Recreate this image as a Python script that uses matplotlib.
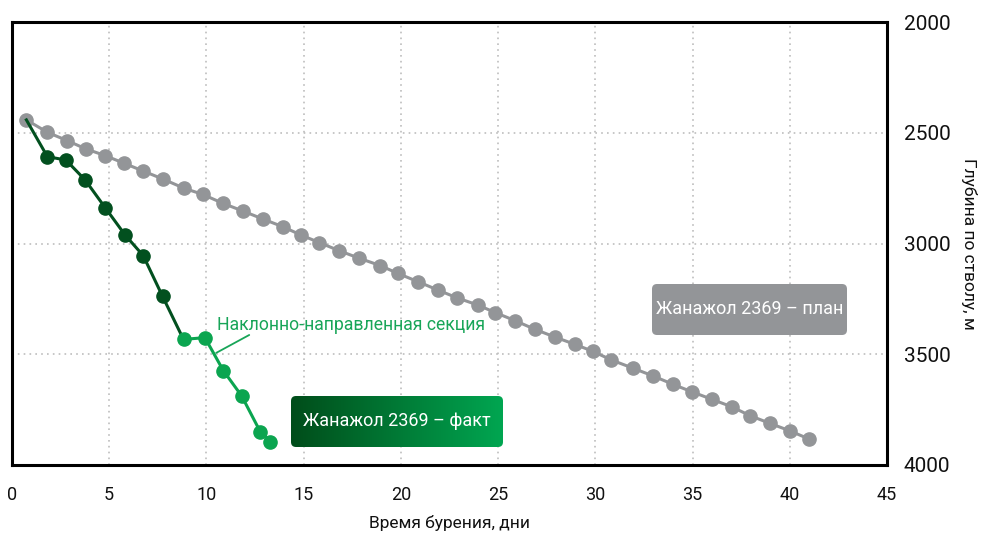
import matplotlib
matplotlib.use("Agg")
import matplotlib.pyplot as plt
import numpy as np
from matplotlib.patches import FancyBboxPatch
from matplotlib.colors import LinearSegmentedColormap

plt.rcParams['font.family'] = ['Roboto', 'DejaVu Sans']

# ---- data ----
plan_days = [0.74, 1.82, 2.85, 3.80, 4.79, 5.77, 6.75, 7.79, 8.86, 9.80,
             10.83, 11.86, 12.89, 13.92, 14.87, 15.81, 16.84, 17.87, 18.95, 19.84,
             20.87, 21.90, 22.88, 23.96, 24.86, 25.89, 26.88, 27.91, 28.94, 29.88,
             30.83, 31.94, 32.97, 34.00, 34.95, 35.98, 37.01, 37.95, 38.98, 40.01,
             41.00]
plan_depth = [2442, 2498, 2536, 2573, 2603, 2638, 2673, 2710, 2751, 2778,
              2818, 2853, 2889, 2924, 2962, 2996, 3033, 3067, 3100, 3135,
              3172, 3210, 3245, 3278, 3312, 3349, 3387, 3422, 3455, 3487,
              3526, 3563, 3598, 3636, 3669, 3703, 3737, 3777, 3812, 3846,
              3883]

fact_vertical_days = [0.74, 1.82, 2.77, 3.76, 4.79, 5.82, 6.75, 7.74]
fact_vertical_depth = [2442, 2608, 2623, 2713, 2838, 2962, 3055, 3238]
fact_inclined_days = [8.82, 9.92, 10.87, 11.81, 12.77, 13.29]
fact_inclined_depth = [3433, 3425, 3574, 3688, 3850, 3895]

x_ticks = [0, 5, 10, 15, 20, 25, 30, 35, 40, 45]
y_ticks = [2000, 2500, 3000, 3500, 4000]

plan_label = "Жанажол 2369 – план"
fact_label = "Жанажол 2369 – факт"
section_label = "Наклонно-направленная секция"
x_title = "Время бурения, дни"
y_title = "Глубина по стволу, м"

GRAY = "#939598"
DARK = "#02501f"
GREEN = "#0ba550"
TEXTGREEN = "#18a558"

fig = plt.figure(figsize=(9.89, 5.36), dpi=100)
W, H = 989, 536
ax = fig.add_axes([12 / W, (H - 465) / H, 875 / W, 443 / H])

ax.set_xlim(0, 45)
ax.set_ylim(4000, 2000)
ax.set_xticks(x_ticks)
ax.set_yticks(y_ticks)
ax.yaxis.tick_right()
ax.yaxis.set_label_position("right")
ax.tick_params(axis='both', length=0, labelcolor='#111111')
ax.tick_params(axis='y', pad=12, labelsize=15)
ax.tick_params(axis='x', pad=15, labelsize=13)
for s in ax.spines.values():
    s.set_linewidth(2.2)
    s.set_color("black")
ax.grid(True, color="#bdbdbd", linestyle=(0, (1, 2.5)), linewidth=1.2)
ax.set_axisbelow(True)

ax.set_xlabel(x_title, fontsize=12.5, labelpad=8, color='#111111')
ax.set_ylabel(y_title, fontsize=12.5, rotation=-90, labelpad=19, color='#111111')

ms = 9.5
lw = 2.2
ax.plot(plan_days, plan_depth, color=GRAY, lw=lw, marker='o', ms=ms, zorder=3)

# fact: vertical part (dark), then inclined part (green)
ax.plot(fact_vertical_days + fact_inclined_days[:1],
        fact_vertical_depth + fact_inclined_depth[:1],
        color=DARK, lw=lw, zorder=4)
ax.plot(fact_vertical_days[1:], fact_vertical_depth[1:], color=DARK, lw=0,
        marker='o', ms=ms, zorder=5)
ax.plot(fact_inclined_days, fact_inclined_depth, color=GREEN, lw=lw,
        marker='o', ms=ms, zorder=5)

# annotation for inclined section
ax.annotate('', xy=(10.5, 3494), xytext=(12.2, 3413),
            arrowprops=dict(arrowstyle='-', color=TEXTGREEN, lw=1.3,
                            shrinkA=0, shrinkB=0), zorder=4)
ax.text(10.55, 3368, section_label, color=TEXTGREEN, fontsize=12.7,
        ha='left', va='center')

# boxes in axes-fraction coordinates
def box(x0px, x1px, y0px, y1px):
    ax_l, ax_r, ax_t, ax_b = 12, 887, 22, 465
    fx0 = (x0px - ax_l) / (ax_r - ax_l)
    fx1 = (x1px - ax_l) / (ax_r - ax_l)
    fy0 = (ax_b - y1px) / (ax_b - ax_t)
    fy1 = (ax_b - y0px) / (ax_b - ax_t)
    return fx0, fx1, fy0, fy1

aspect = 875 / 443
r = 5 / 875

fx0, fx1, fy0, fy1 = box(652, 847, 284, 335)
p = FancyBboxPatch((fx0, fy0), fx1 - fx0, fy1 - fy0,
                   boxstyle=f"round,pad=0,rounding_size={r}",
                   mutation_aspect=aspect, transform=ax.transAxes,
                   facecolor=GRAY, edgecolor='none', zorder=6)
ax.add_patch(p)
ax.text((fx0 + fx1) / 2, (fy0 + fy1) / 2, plan_label, transform=ax.transAxes,
        color='white', fontsize=13, ha='center', va='center', zorder=7)

fx0, fx1, fy0, fy1 = box(291, 503, 396, 447)
p2 = FancyBboxPatch((fx0, fy0), fx1 - fx0, fy1 - fy0,
                    boxstyle=f"round,pad=0,rounding_size={r}",
                    mutation_aspect=aspect, transform=ax.transAxes,
                    facecolor='none', edgecolor='none', zorder=6)
ax.add_patch(p2)
cmap = LinearSegmentedColormap.from_list("g", ["#004d1a", "#00a651"])
grad = np.linspace(0, 1, 256).reshape(1, -1)
im = ax.imshow(grad, cmap=cmap, extent=[fx0, fx1, fy0, fy1], aspect='auto',
               transform=ax.transAxes, zorder=6, interpolation='bilinear')
im.set_clip_path(p2)
ax.text((fx0 + fx1) / 2, (fy0 + fy1) / 2, fact_label, transform=ax.transAxes,
        color='white', fontsize=13, ha='center', va='center', zorder=7)

ax.set_xlim(0, 45)
ax.set_ylim(4000, 2000)

fig.savefig("out.png", dpi=100)
